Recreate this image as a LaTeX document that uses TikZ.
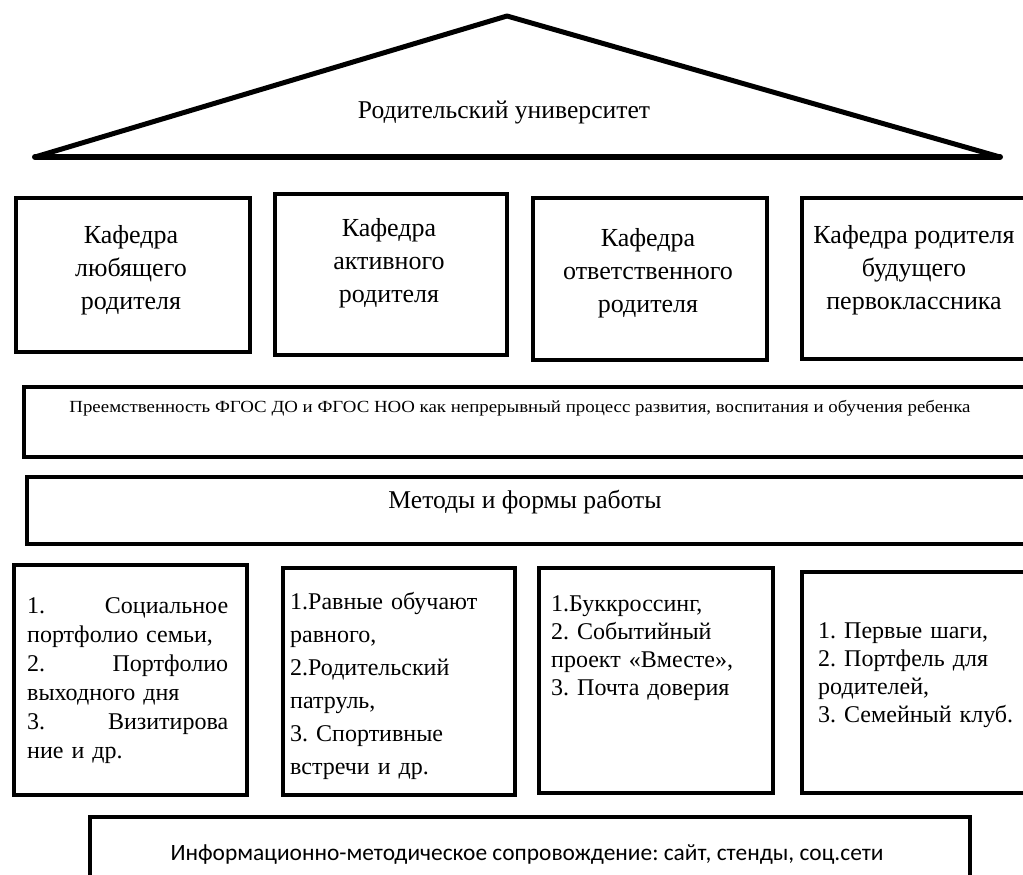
\documentclass[tikz,border=0pt]{standalone}
\usepackage{fontspec}
\setmainfont{Liberation Serif}
\newfontfamily\calfont{Carlito}
\begin{document}
\frenchspacing
\begin{tikzpicture}[x=1pt,y=-1pt,
  box/.style={draw,line width=4pt,anchor=north west,inner sep=0pt},
  ktext/.style={anchor=north,inner sep=0pt,align=center,font=\fontsize{26}{33}\selectfont},
  ltext/.style={anchor=north west,inner sep=0pt,align=left,font=\fontsize{24}{29}\selectfont}]
\useasboundingbox (0,0) rectangle (1023,875);
\clip (0,0) rectangle (1023,875);
% roof
\coordinate (rl) at (35,157);
\coordinate (rt) at (507,16);
\coordinate (rr) at (1000,157);
\draw[line width=5pt,line join=round] (rl) -- (rt) -- (rr);
\draw[line width=6pt,line cap=round] (rl) -- (rr);
\node[font=\fontsize{25.6}{30}\selectfont] (title) at (504,112) {Родительский университет};
% departments
\node[box,minimum width=234pt,minimum height=154pt] (k1) at (14,196) {};
\node[box,minimum width=232pt,minimum height=161pt] (k2) at (273,192) {};
\node[box,minimum width=234pt,minimum height=162pt] (k3) at (531,196) {};
\node[box,minimum width=240pt,minimum height=161pt] (k4) at (800,196) {};
\node[ktext] (k1t) at (131,225) {Кафедра\\любящего\\родителя};
\node[ktext] (k2t) at (389,218) {Кафедра\\активного\\родителя};
\node[ktext] (k3t) at (648,228) {Кафедра\\ответственного\\родителя};
\node[ktext] (k4t) at (914,225) {Кафедра родителя\\будущего\\первоклассника};
% continuity
\node[box,minimum width=1010pt,minimum height=70pt] (pre) at (22,385) {};
\node[font=\fontsize{17}{20}\selectfont] (pret) at (520,408) {\scalebox{1.11}[1]{Преемственность ФГОС ДО и ФГОС НОО как непрерывный процесс развития, воспитания и обучения ребенка}};
% methods
\node[box,minimum width=1010pt,minimum height=67pt] (met) at (25,475) {};
\node[font=\fontsize{25.6}{30}\selectfont] (mett) at (525,502) {Методы и формы работы};
% forms
\node[box,minimum width=233pt,minimum height=230pt] (b1) at (12,563) {};
\node[box,minimum width=232pt,minimum height=227pt] (b2) at (281,566) {};
\node[box,minimum width=234pt,minimum height=225pt] (b3) at (537,566) {};
\node[box,minimum width=240pt,minimum height=221pt] (b4) at (800,570) {};
\node[ltext,text width=201pt] (b1t) at (27,597) {1.\hfill Социальное\\портфолио семьи,\\2.\hfill Портфолио\\выходного дня\\3.\hfill Визитирова\\ние и др.};
\node[ltext,text width=222pt,font=\fontsize{24}{33}\selectfont] (b2t) at (290,592) {1.Равные обучают\\равного,\\2.Родительский\\патруль,\\3. Спортивные\\встречи и др.};
\node[ltext,text width=225pt,font=\fontsize{24}{28}\selectfont] (b3t) at (551,595) {1.Буккроссинг,\\2. Событийный\\проект «Вместе»,\\3. Почта доверия};
\node[ltext,text width=222pt,font=\fontsize{24}{28}\selectfont] (b4t) at (818,622) {1. Первые шаги,\\2. Портфель для\\родителей,\\3. Семейный клуб.};
% info
\node[box,minimum width=880pt,minimum height=80pt] (info) at (88,815) {};
\node[font=\calfont\fontsize{23.4}{28}\selectfont] (infot) at (527,855) {Информационно-методическое сопровождение: сайт, стенды, соц.сети};
\end{tikzpicture}
\end{document}
